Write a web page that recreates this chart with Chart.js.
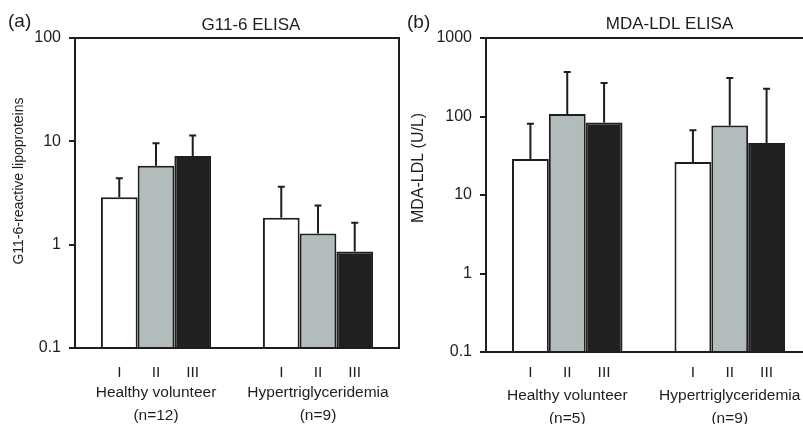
<!DOCTYPE html>
<html><head><meta charset="utf-8">
<script src="https://cdn.jsdelivr.net/npm/chart.js@4/dist/chart.umd.min.js"></script>
<style>
html,body{margin:0;padding:0;background:#fff;}
body{width:803px;height:424px;overflow:hidden;position:relative;}
#ca{position:absolute;left:0;top:0;}
#cb{position:absolute;left:400px;top:0;}
</style></head><body>
<canvas id="ca" width="405" height="424"></canvas>
<canvas id="cb" width="415" height="424"></canvas>
<script>
// ---- data ----
const seriesNames = ['I', 'II', 'III'];

// Panel (a) G11-6 ELISA
const categoriesA = [['Healthy volunteer', '(n=12)'], ['Hypertriglyceridemia', '(n=9)']];
const a_I   = [2.87, 1.82];
const a_II  = [5.81, 1.28];
const a_III = [7.21, 0.86];
const a_I_upper   = [4.39, 3.64];
const a_II_upper  = [9.57, 2.40];
const a_III_upper = [11.4, 1.63];
const yTicksA = [0.1, 1, 10, 100];

// Panel (b) MDA-LDL ELISA
const categoriesB = [['Healthy volunteer', '(n=5)'], ['Hypertriglyceridemia', '(n=9)']];
const b_I   = [28.7, 26.3];
const b_II  = [108, 77];
const b_III = [84, 46];
const b_I_upper   = [81, 67];
const b_II_upper  = [369, 309];
const b_III_upper = [267, 226];
const yTicksB = [0.1, 1, 10, 100, 1000];

// ---- style ----
const FONT = "'Liberation Sans', Arial, sans-serif";
const INK = '#1e1e1e';
const barColors = ['#ffffff', '#b3bcbc', '#1f2020'];

function makeChart(canvasId, cfg) {
  const deco = {
    id: 'deco' + canvasId,
    afterDatasetsDraw(chart) {
      const ctx = chart.ctx;
      const ys = chart.scales.y;
      ctx.save();
      // error bars
      ctx.strokeStyle = INK;
      ctx.lineWidth = 2;
      cfg.uppers.forEach((up, d) => {
        const meta = chart.getDatasetMeta(d);
        meta.data.forEach((el, j) => {
          const yt = ys.getPixelForValue(up[j]);
          ctx.beginPath();
          ctx.moveTo(el.x, el.y);
          ctx.lineTo(el.x, yt);
          ctx.moveTo(el.x - 3.5, yt);
          ctx.lineTo(el.x + 3.5, yt);
          ctx.stroke();
        });
      });
      // frame
      const a = chart.chartArea;
      ctx.lineWidth = 2;
      ctx.strokeRect(a.left, a.top, a.right - a.left, a.bottom - a.top);
      // roman numerals under bars
      ctx.fillStyle = INK;
      ctx.font = '15.5px ' + FONT;
      ctx.textAlign = 'center';
      ctx.textBaseline = 'middle';
      chart.data.datasets.forEach((ds, d) => {
        chart.getDatasetMeta(d).data.forEach(el => {
          ctx.fillText(ds.label, el.x, cfg.romanY);
        });
      });
      // panel letter
      ctx.textAlign = 'left';
      ctx.font = '19px ' + FONT;
      ctx.fillText(cfg.letter, cfg.letterX, cfg.letterY);
      // title
      ctx.textAlign = 'center';
      ctx.font = '17px ' + FONT;
      ctx.fillText(cfg.title, cfg.titleX, cfg.titleY);
      // y title
      ctx.save();
      ctx.translate(cfg.yTitleX, cfg.yTitleY);
      ctx.rotate(-Math.PI / 2);
      ctx.font = cfg.yTitleSize + 'px ' + FONT;
      ctx.fillText(cfg.yTitle, 0, 0);
      ctx.restore();
      ctx.restore();
    }
  };

  return new Chart(document.getElementById(canvasId), {
    type: 'bar',
    data: {
      labels: cfg.categories,
      datasets: cfg.series.map((vals, i) => ({
        label: seriesNames[i],
        data: vals,
        backgroundColor: barColors[i],
        borderColor: INK,
        borderWidth: 2,
        categoryPercentage: 0.68,
        barPercentage: 1.0
      }))
    },
    options: {
      responsive: false,
      animation: false,
      devicePixelRatio: 1,
      layout: { padding: { top: cfg.padTop, right: cfg.padRight, left: 0, bottom: 0 } },
      plugins: { legend: { display: false }, tooltip: { enabled: false }, title: { display: false } },
      scales: {
        x: {
          grid: { display: false, drawTicks: false },
          border: { display: true, width: 2, color: INK },
          ticks: {
            color: INK, padding: cfg.xPad, maxRotation: 0, autoSkip: false,
            font: { family: FONT, size: 15.5, lineHeight: 1.5 }
          },
          afterFit: s => { s.height = cfg.xHeight; s.paddingLeft = 0; s.paddingRight = 0; }
        },
        y: {
          type: 'logarithmic',
          min: cfg.yTicks[0],
          max: cfg.yTicks[cfg.yTicks.length - 1],
          afterBuildTicks: s => { s.ticks = cfg.yTicks.map(v => ({ value: v })); },
          afterFit: s => { s.width = cfg.yWidth; s.paddingTop = 0; s.paddingBottom = 0; },
          grid: { drawOnChartArea: false, drawTicks: true, tickLength: 6, lineWidth: 2, color: INK },
          border: { display: true, width: 2, color: INK },
          ticks: {
            color: INK, padding: 8, autoSkip: false,
            font: { family: FONT, size: 16 },
            callback: v => String(v)
          }
        }
      }
    },
    plugins: [deco]
  });
}

makeChart('ca', {
  categories: categoriesA,
  series: [a_I, a_II, a_III],
  uppers: [a_I_upper, a_II_upper, a_III_upper],
  yTicks: yTicksA,
  padTop: 38, padRight: 6, yWidth: 75, xHeight: 76, xPad: 33,
  romanY: 373,
  letter: '(a)', letterX: 8, letterY: 22,
  title: 'G11-6 ELISA', titleX: 251, titleY: 25,
  yTitle: 'G11-6-reactive lipoproteins', yTitleX: 19, yTitleY: 181, yTitleSize: 14
});

makeChart('cb', {
  categories: categoriesB,
  series: [b_I, b_II, b_III],
  uppers: [b_I_upper, b_II_upper, b_III_upper],
  yTicks: yTicksB,
  padTop: 38, padRight: 4, yWidth: 86, xHeight: 72, xPad: 32,
  romanY: 373,
  letter: '(b)', letterX: 7, letterY: 23,
  title: 'MDA-LDL ELISA', titleX: 269.5, titleY: 24,
  yTitle: 'MDA-LDL (U/L)', yTitleX: 19, yTitleY: 168, yTitleSize: 16
});
</script>
</body></html>
